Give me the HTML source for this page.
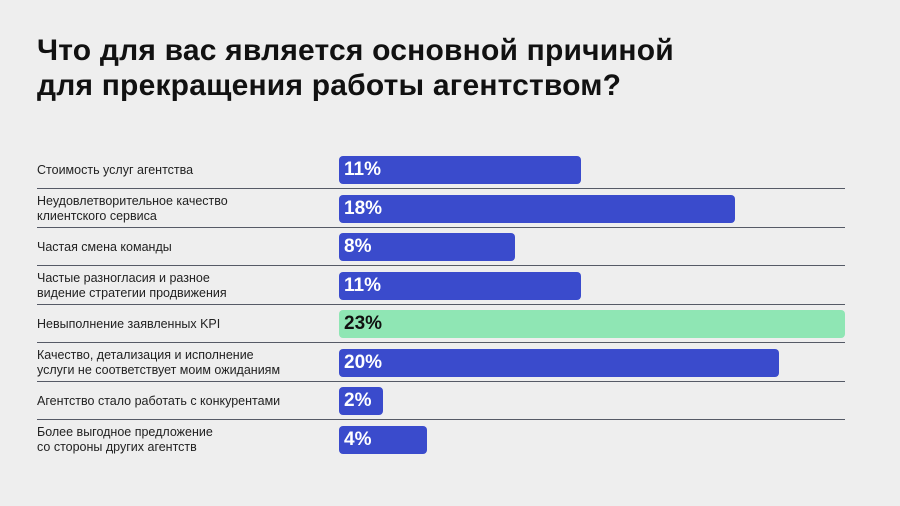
<!DOCTYPE html>
<html><head><meta charset="utf-8"><style>
body{margin:0;width:900px;height:506px;background:#eeeeee;font-family:"Liberation Sans",sans-serif;overflow:hidden;position:relative}
h1{position:absolute;left:37px;top:33px;margin:0;font-size:30px;line-height:35px;font-weight:bold;color:#111;letter-spacing:0.2px}
.lbl{position:absolute;left:37px;font-size:12.5px;line-height:15px;color:#222}
.bar{position:absolute;left:339px;height:28px;border-radius:4px;box-sizing:border-box;padding-left:5px;font-weight:bold;font-size:19px;line-height:28px;color:#fff}
.sep{position:absolute;left:37px;width:808px;height:1px;background:#555a66}
</style></head><body>
<h1>Что для вас является основной причиной<br>для прекращения работы агентством?</h1>
<div id="chart"></div>
<script>
const categories=["Стоимость услуг агентства","Неудовлетворительное качество<br>клиентского сервиса","Частая смена команды","Частые разногласия и разное<br>видение стратегии продвижения","Невыполнение заявленных KPI","Качество, детализация и исполнение<br>услуги не соответствует моим ожиданиям","Агентство стало работать с конкурентами","Более выгодное предложение<br>со стороны других агентств"];
const values=[11,18,8,11,23,20,2,4];
const highlight=[false,false,false,false,true,false,false,false];
const c=document.getElementById('chart');
const x=v=>v*22;
const yTop=i=>156+i*38.5;
categories.forEach((cat,i)=>{
  const b=document.createElement('div');
  b.className='bar';
  
  
  b.style.top=yTop(i)+'px';
  b.style.width=x(values[i])+'px';
  b.style.background=highlight[i]?'#8fe6b4':'#3a4bcc';
  if(highlight[i])b.style.color='#111';
  b.textContent=values[i]+'%';
  c.appendChild(b);
  const l=document.createElement('div');
  l.className='lbl';
  
  
  l.innerHTML=cat;
  const lines=cat.split('<br>').length;
  l.style.top=(yTop(i)+14-lines*7.5)+'px';
  c.appendChild(l);
  if(i<categories.length-1){
    const s=document.createElement('div');
    s.className='sep';
    
    
    s.style.top=(yTop(i)+32)+'px';
    c.appendChild(s);
  }
});
</script>
</body></html>
